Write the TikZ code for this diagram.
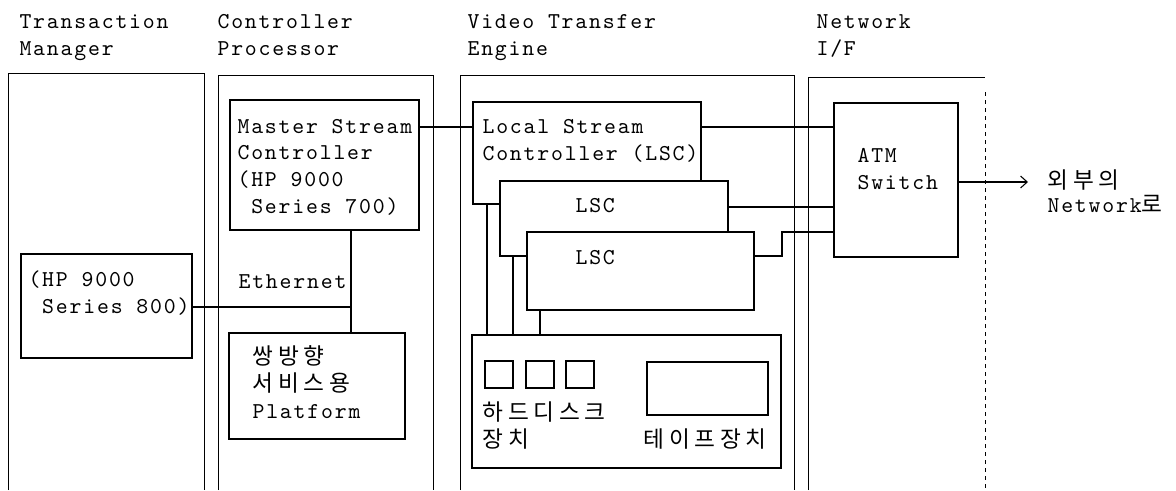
\documentclass[tikz,border=0pt]{standalone}
\usepackage{fontspec}
\setmonofont[LetterSpace=8]{lmmono10-regular.otf}
\newfontfamily\kr[LetterSpace=21]{Noto Sans CJK KR}
\usetikzlibrary{fit,calc,arrows.meta}

\begin{document}
\begin{tikzpicture}[x=0.75pt,y=-0.75pt,line width=0.8pt,
    box/.style={draw,fill=white,inner sep=0pt,outer sep=0pt},
    lbl/.style={font=\fontsize{17}{20}\selectfont\ttfamily,align=left,inner sep=0pt,anchor=base west},
    frame/.style={line width=0.7pt}]
  \useasboundingbox (0,0) rectangle (1176,490);

  % column titles (placed at the last baseline)
  \node[lbl] (tm) at (19,55) {Transaction\\Manager};
  \node[lbl] (cp) at (217,55) {Controller\\Processor};
  \node[lbl] (vte) at (467,55) {Video Transfer\\Engine};
  \node[lbl] (nif) at (816,55) {Network\\I/F};

  % column frames, open at the bottom
  \draw[frame] (8,490) |- (204,73) -- (204,490);
  \draw[frame] (218,490) |- (433,75) -- (433,490);
  \draw[frame] (460,490) |- (794,75) -- (794,490);
  \draw[frame] (808,490) |- (985,77);
  \draw[frame,dashed] (985,92) -- (985,490);

  % boxes
  \node[box,fit={(21,254) (192,358)}] (hp) {};
  \node[box,fit={(230,100) (419,230)}] (msc) {};
  \node[box,fit={(229,333) (405,439)}] (plat) {};
  \node[box,fit={(473,102) (701,204)}] (lsc1) {};
  \node[box,fit={(500,181) (728,256)}] (lsc2) {};
  \node[box,fit={(527,232) (754,310)}] (lsc3) {};
  \node[box,fit={(472,335) (781,468)}] (store) {};
  \node[box,fit={(834,103) (958,257)}] (atm) {};

  % disks and tape drive
  \foreach \i/\x in {1/485,2/526,3/566}
    \node[box,fit={(\x,361) (\x+28,388)}] (hd\i) {};
  \node[box,fit={(647,362) (768,415)}] (tape) {};

  % labels
  \node[lbl] (hptxt) at (28,313) {(HP 9000\\~Series 800)};
  \node[lbl] (msctxt) at (237,213) {Master Stream\\Controller\\(HP 9000\\~Series 700)};
  \node[lbl] (ethtxt) at (238,288) {Ethernet};
  \node[lbl] (plattxt) at (252,418) {{\kr 쌍방향}\\{\kr 서비스용}\\Platform};
  \node[lbl] (l1txt) at (482,160) {Local Stream\\Controller (LSC)};
  \node[lbl] (l2txt) at (575,212) {LSC};
  \node[lbl] (l3txt) at (575,264) {LSC};
  \node[lbl] (hdtxt) at (482,447) {{\kr 하드디스크}\\{\kr 장치}};
  \node[lbl] (tapetxt) at (643,447) {\kr 테이프장치};
  \node[lbl] (atmtxt) at (857,189) {ATM\\Switch};
  \node[lbl,font=\fontsize{17}{18}\selectfont\ttfamily] (exttxt) at (1047,212) {{\kr 외부의}\\Network{\kr 로}};

  % connectors
  \coordinate (busA) at (0,127);
  \coordinate (eth) at (351,307);
  \coordinate (ext) at (1028,182);
  \draw (msc.east |- busA) -- (lsc1.west |- busA);
  \draw (lsc1.east |- busA) -- (atm.west |- busA);
  \draw ($(lsc2.north east)+(0,26)$) coordinate (b2) -- (b2 -| atm.west);
  \draw (lsc3.east |- lsc2.south) -- ++(28,0) |- (atm.west |- lsc3.north);
  \draw (msc.south -| eth) -- (plat.north -| eth);
  \draw (hp.east |- eth) -- (eth);
  \draw ($(lsc1.south west)+(14,0)$) coordinate (d1) -- (d1 |- store.north);
  \draw ($(lsc2.south west)+(13,0)$) coordinate (d2) -- (d2 |- store.north);
  \draw ($(lsc3.south west)+(13,0)$) coordinate (d3) -- (d3 |- store.north);
  \draw[-{Straight Barb[length=5pt,width=9pt]}] (atm.east |- ext) -- (ext);
\end{tikzpicture}
\end{document}
